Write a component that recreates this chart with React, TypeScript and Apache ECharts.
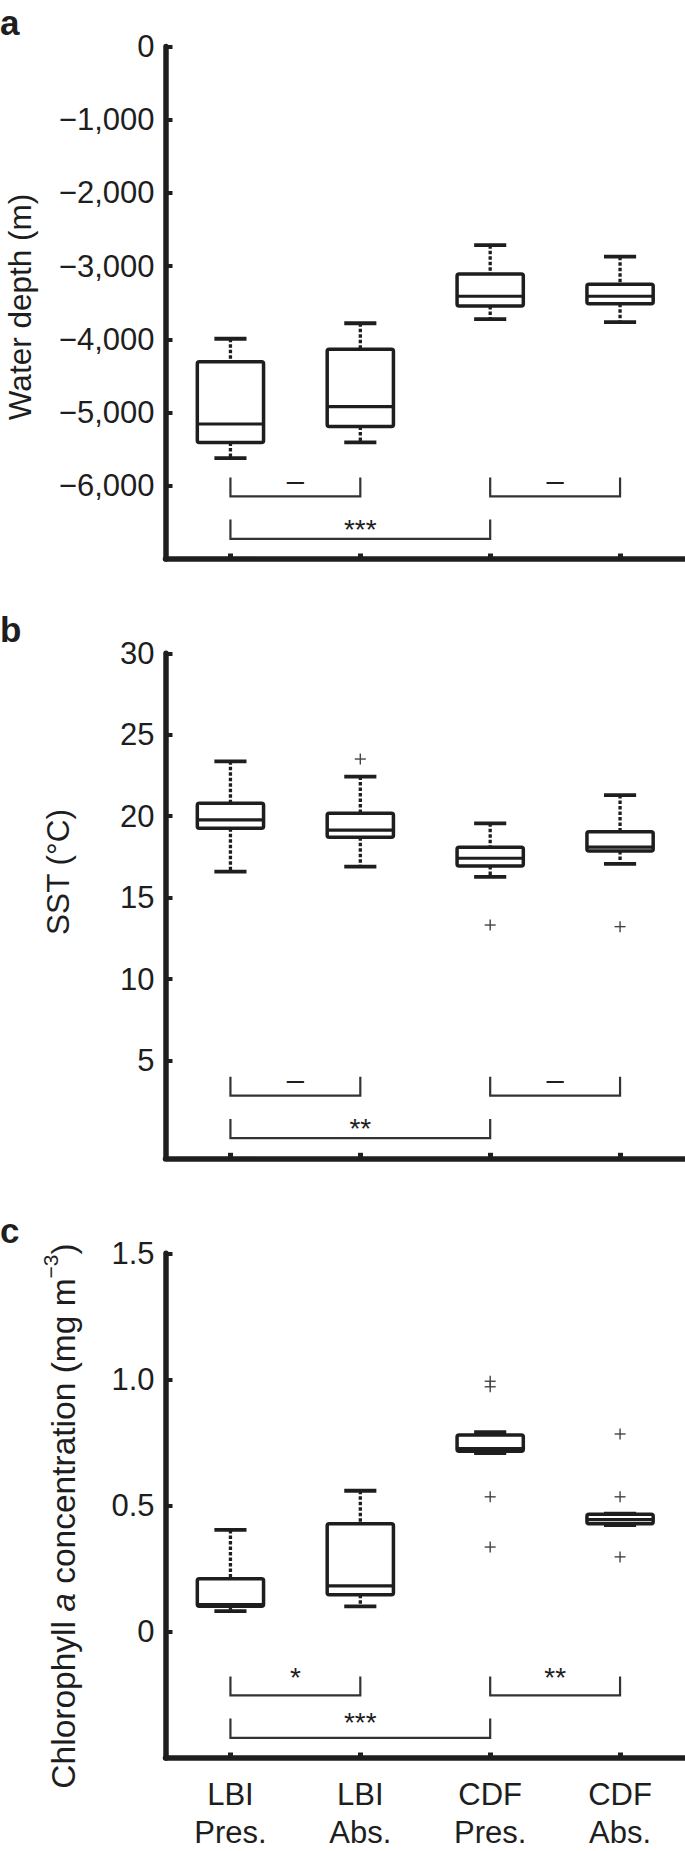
import React, { useEffect, useRef } from 'react';
import * as echarts from 'echarts';

// ---------- data ----------
const groups = ['LBI', 'LBI', 'CDF', 'CDF'];
const status = ['Pres.', 'Abs.', 'Pres.', 'Abs.'];
const categories = groups.map((g, i) => `${g}\n${status[i]}`);

// box rows: [min, q1, median, q3, max]
const depthBoxes = [
  [-5621, -5408, -5156, -4306, -3992],
  [-5408, -5191, -4918, -4134, -3780],
  [-3724, -3543, -3411, -3108, -2713],
  [-3765, -3512, -3411, -3249, -2870],
];
const depthOutliers: number[][] = [];
const depthTicks = [-6000, -5000, -4000, -3000, -2000, -1000, 0];
const depthRange = [-7000, 0];

const sstBoxes = [
  [16.6, 19.26, 19.77, 20.79, 23.37],
  [16.9, 18.71, 19.15, 20.18, 22.43],
  [16.27, 16.94, 17.42, 18.09, 19.56],
  [17.07, 17.86, 18.1, 19.05, 21.3],
];
const sstOutliers = [[1, 23.51], [2, 13.32], [3, 13.22]];
const sstTicks = [5, 10, 15, 20, 25, 30];
const sstRange = [-1, 30];

const chlBoxes = [
  [0.082, 0.101, 0.108, 0.21, 0.404],
  [0.101, 0.147, 0.182, 0.428, 0.559],
  [0.708, 0.716, 0.726, 0.78, 0.791],
  [0.423, 0.428, 0.445, 0.466, 0.468],
];
const chlOutliers = [[2, 0.993], [2, 0.971], [2, 0.535], [2, 0.336], [3, 0.784], [3, 0.535], [3, 0.297]];
const chlTicks = [0, 0.5, 1.0, 1.5];
const chlRange = [-0.5, 1.5];

// significance comparisons: [fromIndex, toIndex, row]
const comparisons = [[0, 1, 0], [2, 3, 0], [0, 2, 1]];
const depthSig = ['–', '–', '***'];
const sstSig = ['–', '–', '**'];
const chlSig = ['*', '**', '***'];

const panelLetters = ['a', 'b', 'c'];

// ---------- styling / layout ----------
const FONT = '"Liberation Sans", Arial, Helvetica, sans-serif';
const INK = '#1e1e1e';

const layout = [
  { top: 46.5, height: 512.5, letterBase: 35, titleX: 20, titleY: 307, row1Star: 36 },
  { top: 653.3, height: 505, letterBase: 642, titleX: 58, titleY: 872, row1Star: 36 },
  { top: 1253.3, height: 509.4, letterBase: 1243, titleX: 63.5, titleY: 1516, row1Star: 41.7 },
];

const fmtDepth = (v: number) => (v === 0 ? '0' : '\u2212' + Math.abs(v).toLocaleString('en-US'));
const fmtSst = (v: number) => String(v);
const fmtChl = (v: number) => (v === 0 ? '0' : v.toFixed(1));

function renderBox(params: any, api: any) {
  const x = api.value(0);
  const pMin = api.coord([x, api.value(1)]);
  const pQ1 = api.coord([x, api.value(2)]);
  const pMed = api.coord([x, api.value(3)]);
  const pQ3 = api.coord([x, api.value(4)]);
  const pMax = api.coord([x, api.value(5)]);
  const band = api.size([1, 0])[0];
  const bw = band * 0.51;
  const cw = bw * 0.485;
  const cx = pMed[0];
  const solid = { stroke: INK, lineWidth: 3.8, lineCap: 'butt' };
  const dashed = { stroke: INK, lineWidth: 3.3, lineDash: [3.5, 2] };
  return {
    type: 'group',
    children: [
      { type: 'line', shape: { x1: cx, y1: pMax[1], x2: cx, y2: pQ3[1] }, style: dashed },
      { type: 'line', shape: { x1: cx, y1: pQ1[1], x2: cx, y2: pMin[1] }, style: dashed },
      { type: 'line', shape: { x1: cx - cw / 2, y1: pMax[1], x2: cx + cw / 2, y2: pMax[1] }, style: solid },
      { type: 'line', shape: { x1: cx - cw / 2, y1: pMin[1], x2: cx + cw / 2, y2: pMin[1] }, style: solid },
      {
        type: 'rect',
        shape: { x: cx - bw / 2, y: pQ3[1], width: bw, height: pQ1[1] - pQ3[1], r: 2 },
        style: { fill: '#fff', stroke: INK, lineWidth: 3.5, lineJoin: 'round' },
      },
      { type: 'line', shape: { x1: cx - bw / 2, y1: pMed[1], x2: cx + bw / 2, y2: pMed[1] }, style: { stroke: INK, lineWidth: 3.2 } },
    ],
  };
}

function renderOutlier(params: any, api: any) {
  const p = api.coord([api.value(0), api.value(1)]);
  const s = 5.5;
  const st = { stroke: '#444', lineWidth: 1.4 };
  return {
    type: 'group',
    children: [
      { type: 'line', shape: { x1: p[0] - s, y1: p[1], x2: p[0] + s, y2: p[1] }, style: st },
      { type: 'line', shape: { x1: p[0], y1: p[1] - s, x2: p[0], y2: p[1] + s }, style: st },
    ],
  };
}

function makeBracketRender(yMin: number, labels: string[], row1Star: number) {
  return (params: any, api: any) => {
    const from = api.value(0);
    const to = api.value(1);
    const row = api.value(2);
    const a = api.coord([from, yMin]);
    const b = api.coord([to, yMin]);
    const axisY = a[1];
    const legTop = axisY - (row === 0 ? 81.6 : 39.4);
    const bar = axisY - (row === 0 ? 62.6 : 20.1);
    const label = labels[params.dataIndex];
    const isDash = label === '–';
    const fs = isDash ? 31 : 28;
    const glyphCenter = axisY - (isDash ? 76.3 : row === 0 ? 86.7 : row1Star);
    const mid = isDash ? glyphCenter - 0.075 * fs : glyphCenter + 0.235 * fs;
    return {
      type: 'group',
      children: [
        {
          type: 'polyline',
          shape: { points: [[a[0], legTop], [a[0], bar], [b[0], bar], [b[0], legTop]] },
          style: { stroke: '#333', lineWidth: 2.2, fill: 'none' },
        },
        {
          type: 'text',
          x: (a[0] + b[0]) / 2,
          y: mid,
          style: { text: label, align: 'center', verticalAlign: 'middle', fontSize: fs, fontFamily: FONT, fill: INK },
        },
      ],
    };
  };
}

function buildOption() {
  const panels = [
    { boxes: depthBoxes, outliers: depthOutliers, ticks: depthTicks, range: depthRange, fmt: fmtDepth, sig: depthSig },
    { boxes: sstBoxes, outliers: sstOutliers, ticks: sstTicks, range: sstRange, fmt: fmtSst, sig: sstSig },
    { boxes: chlBoxes, outliers: chlOutliers, ticks: chlTicks, range: chlRange, fmt: fmtChl, sig: chlSig },
  ];

  const grid: any[] = [];
  const xAxis: any[] = [];
  const yAxis: any[] = [];
  const series: any[] = [];
  const graphic: any[] = [];

  panels.forEach((p, i) => {
    const L = layout[i];
    grid.push({ left: 165.5, width: 522, top: L.top, height: L.height, containLabel: false });
    xAxis.push({
      gridIndex: i,
      type: 'category',
      data: categories,
      boundaryGap: true,
      axisLine: { show: true, onZero: false, lineStyle: { color: INK, width: 5.5 } },
      axisTick: { show: true, alignWithLabel: true, inside: true, length: 5.5, lineStyle: { color: INK, width: 5 } },
      axisLabel: {
        show: i === 2,
        interval: 0,
        fontSize: 31,
        lineHeight: 37.5,
        margin: 18,
        color: INK,
        fontFamily: FONT,
      },
      splitLine: { show: false },
    });
    yAxis.push({
      gridIndex: i,
      type: 'value',
      min: p.range[0],
      max: p.range[1],
      axisLine: { show: true, onZero: false, lineStyle: { color: INK, width: 5.5 } },
      axisTick: { show: true, inside: true, length: 7, customValues: p.ticks, lineStyle: { color: INK, width: 4 } },
      axisLabel: {
        customValues: p.ticks,
        formatter: p.fmt,
        fontSize: 31,
        margin: 11,
        color: INK,
        fontFamily: FONT,
      },
      splitLine: { show: false },
    });
    series.push({
      type: 'custom',
      xAxisIndex: i,
      yAxisIndex: i,
      renderItem: renderBox,
      encode: { x: 0, y: [1, 2, 3, 4, 5] },
      data: p.boxes.map((b, k) => [k, ...b]),
      silent: true,
    });
    if (p.outliers.length) {
      series.push({
        type: 'custom',
        xAxisIndex: i,
        yAxisIndex: i,
        renderItem: renderOutlier,
        encode: { x: 0, y: 1 },
        data: p.outliers,
        silent: true,
      });
    }
    series.push({
      type: 'custom',
      xAxisIndex: i,
      yAxisIndex: i,
      renderItem: makeBracketRender(p.range[0], p.sig, L.row1Star),
      encode: { x: [0, 1] },
      data: comparisons,
      silent: true,
    });
    graphic.push({
      type: 'text',
      x: 0,
      y: L.letterBase - 0.35 * 35,
      style: { text: panelLetters[i], fontSize: 35, fontWeight: 'bold', fontFamily: FONT, fill: INK, align: 'left', verticalAlign: 'middle' },
    });
  });

  graphic.push({
    type: 'text',
    x: layout[0].titleX,
    y: layout[0].titleY,
    rotation: Math.PI / 2,
    style: { text: 'Water depth (m)', fontSize: 31.5, fontFamily: FONT, fill: INK, align: 'center', verticalAlign: 'middle' },
  });
  graphic.push({
    type: 'text',
    x: layout[1].titleX,
    y: layout[1].titleY,
    rotation: Math.PI / 2,
    style: { text: 'SST (°C)', fontSize: 31.5, fontFamily: FONT, fill: INK, align: 'center', verticalAlign: 'middle' },
  });
  graphic.push({
    type: 'text',
    x: layout[2].titleX,
    y: layout[2].titleY,
    rotation: Math.PI / 2,
    style: {
      text: 'Chlorophyll {i|a} concentration (mg m{sup|\u22123})',
      fontSize: 33.5,
      lineHeight: 48,
      fontFamily: FONT,
      fill: INK,
      align: 'center',
      verticalAlign: 'middle',
      rich: {
        i: { fontStyle: 'italic', fontSize: 33.5, fontFamily: FONT, fill: INK, lineHeight: 48 },
        sup: { fontSize: 21, fontFamily: FONT, fill: INK, lineHeight: 19, verticalAlign: 'top' },
      },
    },
  });

  return {
    animation: false,
    backgroundColor: '#fff',
    textStyle: { fontFamily: FONT },
    grid,
    xAxis,
    yAxis,
    series,
    graphic,
  };
}

export default function App() {
  const ref = useRef<HTMLDivElement>(null);
  useEffect(() => {
    if (!ref.current) return;
    const chart = echarts.init(ref.current, null, { renderer: 'svg' });
    chart.setOption(buildOption() as any);
    return () => chart.dispose();
  }, []);
  return (
    <div
      ref={ref}
      style={{ position: 'absolute', left: 0, top: 0, width: 685, height: 1851, background: '#fff' }}
    />
  );
}
